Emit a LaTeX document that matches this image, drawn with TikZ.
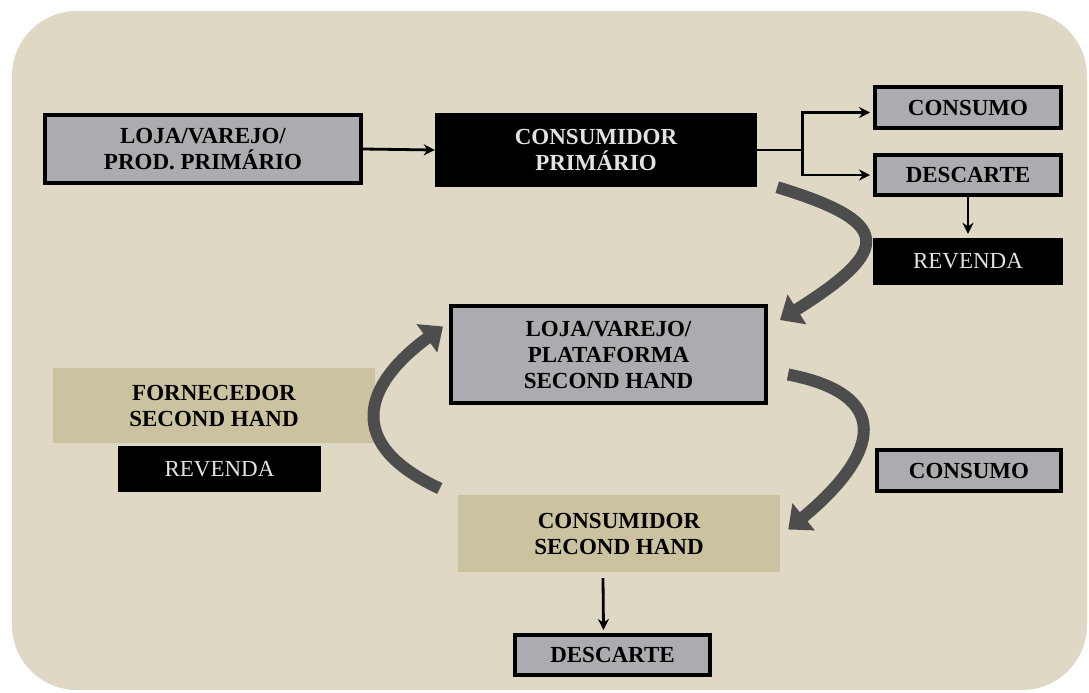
\documentclass[tikz,border=0pt]{standalone}
\usepackage{fontspec}
\setmainfont{Liberation Serif}
\usetikzlibrary{arrows.meta,calc}
\definecolor{bgc}{HTML}{DED8C4}
\definecolor{grayfill}{HTML}{ABABB0}
\definecolor{tanfill}{HTML}{CBC39F}
\definecolor{curvec}{HTML}{4D4D4D}
\definecolor{lighttxt}{HTML}{E2E2E2}
\tikzset{
  base/.style={inner sep=0pt, align=center, font=\fontsize{23}{26}\selectfont\bfseries},
  graybox/.style={base, fill=grayfill, draw=black, line width=4pt},
  blackbox/.style={base, fill=black, text=lighttxt},
  revbox/.style={base, fill=black, text=lighttxt, font=\fontsize{23}{26}\selectfont},
  tanbox/.style={base, fill=tanfill},
  flow/.style={line width=2.8pt, -{Stealth[length=11pt,width=11pt]}},
  plain/.style={line width=2.8pt},
  bigarrow/.style={line width=12pt, draw=curvec, -{Triangle[length=20pt,width=34pt]}}
}
\begin{document}
\begin{tikzpicture}[x=1pt,y=-1pt]
\useasboundingbox (0,0) rectangle (1089,693);
\fill[white] (0,0) rectangle (1089,693);
\fill[bgc, rounded corners=65pt] (12,11) rectangle (1087,690);

\node[graybox, minimum width=316pt, minimum height=68pt] (p1) at (203,149) {LOJA/VAREJO/\\PROD. PRIMÁRIO};
\node[blackbox, minimum width=322pt, minimum height=74pt] (cp) at (596,150) {CONSUMIDOR\\PRIMÁRIO};
\node[graybox, minimum width=186pt, minimum height=41pt] (cons1) at (968,107.5) {CONSUMO};
\node[graybox, minimum width=186pt, minimum height=40pt] (desc1) at (968,175) {DESCARTE};
\node[revbox, minimum width=190pt, minimum height=47pt] (rev1) at (968,261.5) {REVENDA};
\node[graybox, minimum width=315pt, minimum height=97pt] (loja2) at (608.5,354.5) {LOJA/VAREJO/\\PLATAFORMA\\SECOND HAND};
\node[tanbox, minimum width=322pt, minimum height=75pt] (forn) at (214,405.5) {FORNECEDOR\\SECOND HAND};
\node[revbox, minimum width=203pt, minimum height=46pt] (rev2) at (219.5,469) {REVENDA};
\node[graybox, minimum width=184pt, minimum height=41pt] (cons2) at (969,470.5) {CONSUMO};
\node[tanbox, minimum width=322pt, minimum height=77pt] (csh) at (619,533.5) {CONSUMIDOR\\SECOND HAND};
\node[graybox, minimum width=195pt, minimum height=40pt] (desc2) at (612.5,655) {DESCARTE};

% straight connectors
\draw[flow] (p1.east) -- (cp.west);
\draw[plain] (cp.east) -- ++(45,0) coordinate (br);
\draw[plain] ($(br|-cons1.west)+(0,5)$) -- (br|-desc1.west);
\draw[flow] ($(br|-cons1.west)+(-1.4,5)$) -- ($(cons1.west)+(-3,5)$);
\draw[flow] ($(br|-desc1.west)+(-1.4,0)$) -- ($(desc1.west)+(-3,0)$);
\draw[flow] (desc1.south) -- ($(rev1.north)+(0,-4)$);
\draw[flow] ($(csh.south)+(-16,6)$) -- ($(desc2.north)+(-9,-3)$);

% curved arrows
\draw[bigarrow] ($(cp.south east)+(20,0)$) .. controls ($(cp.south east)+(135,35)$) and ($(loja2.north east)+(125,-55)$) .. ($(loja2.north east)+(12,16)$);
\draw[bigarrow] ($(loja2.east)+(20,20)$) .. controls ($(loja2.east)+(125,40)$) and ($(csh.east)+(100,-80)$) .. ($(csh.east)+(8,-4)$);
\draw[bigarrow] ($(csh.west)+(-18,-45)$) .. controls ($(csh.west)+(-115,-90)$) and ($(loja2.west)+(-85,30)$) .. ($(loja2.west)+(-6,-28)$);
\end{tikzpicture}
\end{document}
